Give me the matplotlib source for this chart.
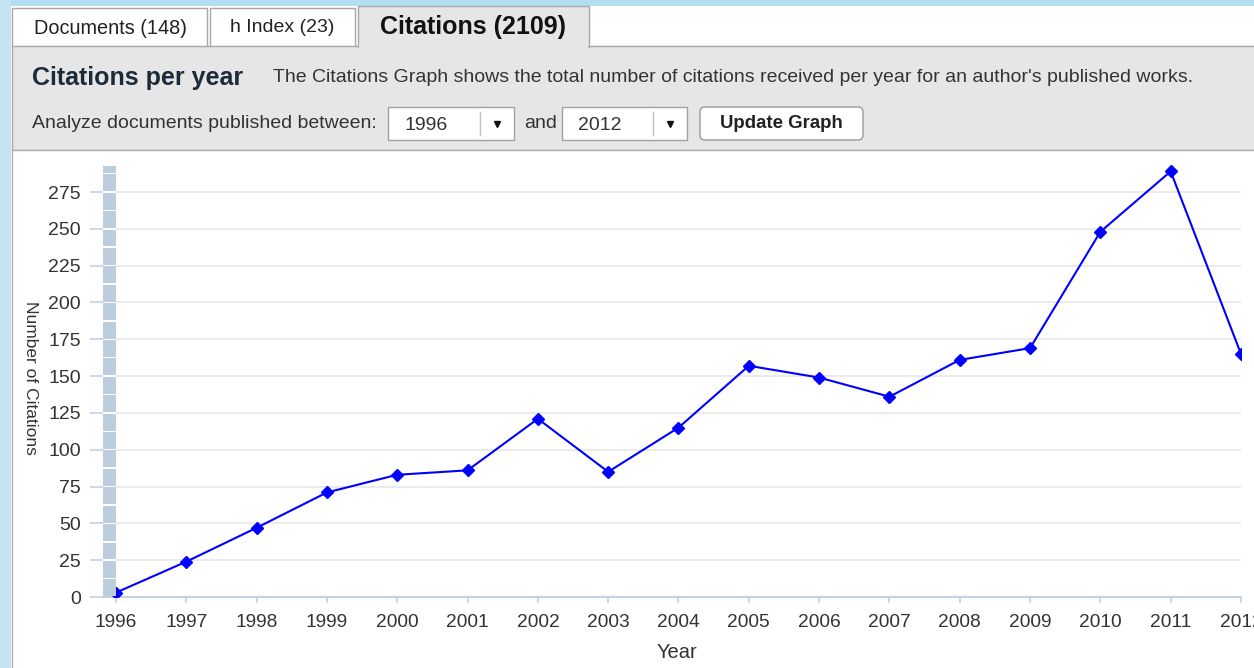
import numpy as np
import matplotlib
matplotlib.use('Agg')
import matplotlib.pyplot as plt
from matplotlib.patches import Rectangle, FancyBboxPatch

# citations per year
years = list(range(1996, 2013))
citations = [3, 24, 47, 71, 83, 86, 121, 85, 115, 157, 149, 136, 161, 169, 248, 289, 165]
yticks = [0, 25, 50, 75, 100, 125, 150, 175, 200, 225, 250, 275]

tab_labels = ['Documents (148)', 'h Index (23)', 'Citations (2109)']
title = 'Citations per year'
subtitle = ("The Citations Graph shows the total number of citations received "
            "per year for an author's published works.")
range_label = 'Analyze documents published between:'
year_from, year_to = '1996', '2012'

W, H = 1254, 668
plt.rcParams['font.family'] = ['Liberation Sans', 'DejaVu Sans']

fig = plt.figure(figsize=(W / 100, H / 100), dpi=100)
fig.patch.set_facecolor('white')

# page furniture drawn in pixel coordinates
ui = fig.add_axes([0, 0, 1, 1])
ui.set_xlim(0, W)
ui.set_ylim(H, 0)
ui.axis('off')


def box(x0, y0, x1, y1, fc, ec='none', lw=1.0, z=1):
    ui.add_patch(Rectangle((x0, y0), x1 - x0, y1 - y0, facecolor=fc,
                           edgecolor=ec, lw=lw, zorder=z))


box(0, 0, W, 6, '#b3e0f0', z=0)
box(0, 0, 11, H, '#c4e4f2', z=0)

# tabs
box(12, 8, 207, 47, 'white', '#a8a8a8')
box(210, 8, 355, 47, 'white', '#a8a8a8')
box(12, 46, W + 5, 150, '#e6e6e6', '#a8a8a8', z=2)
box(358, 6, 589, 47, '#e6e6e6', '#a8a8a8', z=2)
box(359, 44, 588, 49, '#e6e6e6', z=3)
box(12, 150, W + 5, H + 5, 'white', '#b0b0b0', z=2)

ui.text(110, 26, tab_labels[0], ha='center', va='center_baseline', fontsize=14.3,
        color='#222222', zorder=4)
ui.text(282, 26, tab_labels[1], ha='center', va='center_baseline', fontsize=14,
        color='#222222', zorder=4)
ui.text(473, 27, tab_labels[2], ha='center', va='center', fontsize=18,
        weight='bold', color='#111111', zorder=4)

ui.text(32, 78, title, ha='left', va='center', fontsize=18, weight='bold',
        color='#1c2b3a', zorder=4)
ui.text(273, 78, subtitle, ha='left', va='center', fontsize=14, color='#333333', zorder=4)
ui.text(32, 123, range_label, ha='left', va='center', fontsize=14, color='#333333', zorder=4)

# year dropdowns
for (x0, x1, xdiv, label) in [(388, 514, 480, year_from), (562, 687, 653, year_to)]:
    box(x0, 107, x1, 140, 'white', '#a0a0a0', z=3)
    ui.plot([xdiv, xdiv], [112, 135], color='#c0c0c0', lw=1, zorder=4)
    ui.plot([(xdiv + x1) / 2], [124], marker='v', ms=5, color='#111111', zorder=4)
    ui.text(x0 + 16, 125, label, ha='left', va='center', fontsize=14,
            color='#333333', zorder=4)
ui.text(524, 123, 'and', ha='left', va='center', fontsize=14, color='#333333', zorder=4)

ui.add_patch(FancyBboxPatch((700, 107), 163, 33, boxstyle='round,pad=0,rounding_size=5',
                            facecolor='white', edgecolor='#999999', lw=1, zorder=3))
ui.text(781, 123, 'Update Graph', ha='center', va='center', fontsize=13.4,
        weight='bold', color='#222222', zorder=4)

# chart
px_year = (1241 - 116) / 16.0
xleft = 1996 - 13 / px_year
px_unit = (597 - 192) / 275.0
ytop = (597 - 165) / px_unit

ax = fig.add_axes([103 / W, (H - 597) / H, (1241 - 103) / W, (597 - 165) / H])
ax.set_facecolor('none')
ax.set_xlim(xleft, 2012)
ax.set_ylim(0, ytop)

ax.hlines(yticks[1:], 1996, 2012, color='#e8e8e8', lw=1.2, zorder=1)

gap = 1.0
for y0 in np.arange(0, ytop, 12.5):
    h = min(12.5, ytop - y0)
    ax.add_patch(Rectangle((xleft, y0 + gap / 2), 1996 - xleft, h - gap,
                           facecolor='#bccdde', edgecolor='none', zorder=4))

ax.plot(years, citations, color='#0000ff', lw=1.5, marker='D', ms=6.5, zorder=3)

for s in ['top', 'right', 'left']:
    ax.spines[s].set_visible(False)
ax.spines['bottom'].set_color('#c3d2e2')
ax.spines['bottom'].set_linewidth(1.5)

ax.set_xticks(years)
ax.set_xticklabels([str(y) for y in years])
ax.set_yticks(yticks)
ax.tick_params(axis='x', direction='out', length=4.5, width=1.2, color='#c3d2e2',
               labelsize=13.8, labelcolor='#333333', pad=7.5)
ax.tick_params(axis='y', direction='out', length=9.4, width=1.2, color='#c3d2e2',
               labelsize=14, labelcolor='#333333', pad=6.5)

fig.text(30 / W, 1 - 378 / H, 'Number of Citations', rotation=270, ha='center',
         va='center', fontsize=12.5, color='#333333')
fig.text(677 / W, 1 - 652 / H, 'Year', ha='center', va='center', fontsize=14.5,
         color='#333333')

fig.savefig('out.png', dpi=100)
